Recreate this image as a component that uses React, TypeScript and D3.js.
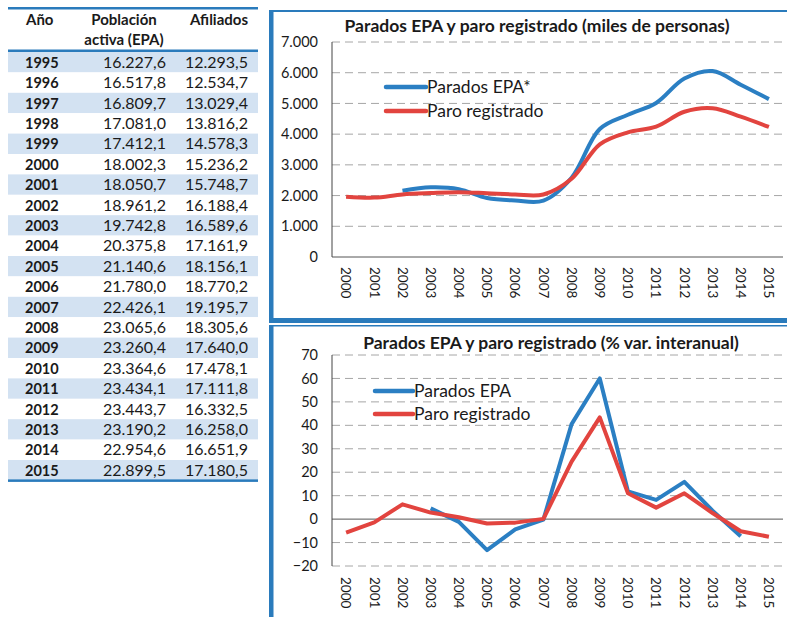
import * as d3 from "d3";

// tabla: población activa (EPA) y afiliados, miles
const tableYears = [1995, 1996, 1997, 1998, 1999, 2000, 2001, 2002, 2003, 2004, 2005, 2006, 2007, 2008, 2009, 2010, 2011, 2012, 2013, 2014, 2015];
const poblacionActiva = [16227.6, 16517.8, 16809.7, 17081.0, 17412.1, 18002.3, 18050.7, 18961.2, 19742.8, 20375.8, 21140.6, 21780.0, 22426.1, 23065.6, 23260.4, 23364.6, 23434.1, 23443.7, 23190.2, 22954.6, 22899.5];
const afiliados = [12293.5, 12534.7, 13029.4, 13816.2, 14578.3, 15236.2, 15748.7, 16188.4, 16589.6, 17161.9, 18156.1, 18770.2, 19195.7, 18305.6, 17640.0, 17478.1, 17111.8, 16332.5, 16258.0, 16651.9, 17180.5];

// gráficos
const years = ["2000", "2001", "2002", "2003", "2004", "2005", "2006", "2007", "2008", "2009", "2010", "2011", "2012", "2013", "2014", "2015"];
const paradosEPA = [null, null, 2160, 2270, 2210, 1920, 1840, 1835, 2580, 4165, 4630, 5015, 5810, 6055, 5610, 5140];
const paroRegistrado = [1965, 1935, 2035, 2080, 2110, 2075, 2035, 2035, 2545, 3670, 4060, 4245, 4730, 4845, 4570, 4235];
const paradosEPAVar = [null, null, null, 4.6, -1.2, -13.2, -4.4, -0.2, 40.5, 60, 11.8, 8.2, 15.9, 3.6, -7.3, null];
const paroRegistradoVar = [-5.8, -1.4, 6.3, 2.8, 0.8, -1.9, -1.5, 0.1, 24.5, 43.4, 11.0, 4.9, 11.0, 2.6, -5.2, -7.5];

const BLUE = "#2b7fc3";
const RED = "#e2443f";
const BORDER = "#2a7bbc";
const FONT = "Lato, 'Open Sans', sans-serif";

const es = d3.formatLocale({ decimal: ",", thousands: ".", grouping: [3], currency: ["", "€"] });
const fmt1 = es.format(",.1f");
const fmt0 = es.format(",.0f");

function Table() {
  const left = 8;
  const right = 258;
  const y0 = 52;
  const rowH = 20.4;
  return (
    <g fontFamily={FONT} fill="#1a1a1a">
      {tableYears.map((yr, i) => (
        <rect key={"r" + yr} x={left} y={y0 + i * rowH} width={right - left} height={rowH} fill={i % 2 === 0 ? "#d3e2f2" : "#fff"} />
      ))}
      <rect x={left} y={7} width={right - left} height={2.5} fill={BORDER} />
      <rect x={left} y={49.5} width={right - left} height={2.5} fill={BORDER} />
      <rect x={left} y={y0 + tableYears.length * rowH - 1} width={right - left} height={2.5} fill={BORDER} />
      <text x={26} y={25} fontSize={15} fontWeight="bold">Año</text>
      <text x={124} y={25} fontSize={15} fontWeight="bold" textAnchor="middle">Población</text>
      <text x={124} y={45} fontSize={15} fontWeight="bold" textAnchor="middle">activa (EPA)</text>
      <text x={248} y={25} fontSize={15} fontWeight="bold" textAnchor="end">Afiliados</text>
      {tableYears.map((yr, i) => {
        const cy = y0 + i * rowH + rowH / 2 + 5.5;
        return (
          <g key={"t" + yr}>
            <text x={25} y={cy} fontSize={14.5} fontWeight="bold">{yr}</text>
            <text x={166} y={cy} fontSize={16} textAnchor="end">{fmt1(poblacionActiva[i])}</text>
            <text x={248} y={cy} fontSize={16} textAnchor="end">{fmt1(afiliados[i])}</text>
          </g>
        );
      })}
    </g>
  );
}

interface ChartProps {
  title: string;
  titleX: number;
  titleY: number;
  domain: [number, number];
  step: number;
  yRange: [number, number];
  labelTop: number;
  series: { name: string; color: string; values: (number | null)[] }[];
  legendX: [number, number];
  legendY: number[];
  smooth: boolean;
}

function LineChart(p: ChartProps) {
  const x = d3.scaleBand().domain(years).range([332, 783]);
  const y = d3.scaleLinear().domain(p.domain).range(p.yRange);
  const ticks = d3.range(p.domain[0], p.domain[1] + p.step / 2, p.step);
  const line = d3
    .line<number | null>()
    .defined((d) => d !== null)
    .x((_, i) => x(years[i])! + x.bandwidth() / 2)
    .y((d) => y(d as number))
    .curve(p.smooth ? d3.curveCatmullRom.alpha(0.5) : d3.curveLinear);
  return (
    <g fontFamily={FONT} fill="#1a1a1a">
      <text x={p.titleX} y={p.titleY} fontSize={17.5} fontWeight="bold" textAnchor="middle">{p.title}</text>
      {ticks.map((t) => (
        <g key={t}>
          {t !== 0 && (
            <line x1={332} x2={783} y1={y(t)} y2={y(t)} stroke="#a6a6a6" strokeWidth={1} strokeDasharray="8,5" />
          )}
          <text x={318} y={y(t)} dy="0.35em" fontSize={14.5} textAnchor="end">{fmt0(t)}</text>
        </g>
      ))}
      <line x1={332} x2={783} y1={y(0)} y2={y(0)} stroke="#555" strokeWidth={1} />
      <line x1={332} x2={332} y1={p.yRange[0]} y2={p.yRange[1]} stroke="#444" strokeWidth={1} />
      {years.map((yr) => (
        <text key={yr} transform={`translate(${x(yr)! + x.bandwidth() / 2},${p.labelTop}) rotate(90)`} dy="0.35em" fontSize={13.5}>
          {yr}
        </text>
      ))}
      {p.series.map((s) => (
        <path key={s.name} d={line(s.values) ?? ""} fill="none" stroke={s.color} strokeWidth={4} strokeLinejoin="round" />
      ))}
      {p.series.map((s, i) => (
        <g key={"l" + s.name}>
          <line x1={p.legendX[0]} x2={p.legendX[1]} y1={p.legendY[i]} y2={p.legendY[i]} stroke={s.color} strokeWidth={4.5} strokeLinecap="round" />
          <text x={p.legendX[1] + 1} y={p.legendY[i]} dy="0.35em" fontSize={17.5}>{s.name}</text>
        </g>
      ))}
    </g>
  );
}

export default function App() {
  return (
    <svg width={787} height={617} style={{ position: "absolute", left: 0, top: 0, background: "#fff" }}>
      <Table />
      {/* marcos de los paneles */}
      <rect x={269} y={10} width={518} height={2} fill={BORDER} />
      <rect x={269} y={10} width={4.5} height={313} fill={BORDER} />
      <rect x={269} y={318} width={518} height={5} fill={BORDER} />
      <rect x={269} y={325} width={518} height={1.5} fill={BORDER} />
      <rect x={269} y={326} width={4.5} height={291} fill={BORDER} />
      <LineChart
        title="Parados EPA y paro registrado (miles de personas)"
        titleX={537}
        titleY={32}
        domain={[0, 7000]}
        step={1000}
        yRange={[257, 42]}
        labelTop={267}
        series={[
          { name: "Parados EPA*", color: BLUE, values: paradosEPA },
          { name: "Paro registrado", color: RED, values: paroRegistrado },
        ]}
        legendX={[386, 426]}
        legendY={[87, 111]}
        smooth={true}
      />
      <LineChart
        title="Parados EPA y paro registrado (% var. interanual)"
        titleX={551}
        titleY={349}
        domain={[-20, 70]}
        step={10}
        yRange={[566, 355]}
        labelTop={577}
        series={[
          { name: "Parados EPA", color: BLUE, values: paradosEPAVar },
          { name: "Paro registrado", color: RED, values: paroRegistradoVar },
        ]}
        legendX={[375, 413]}
        legendY={[391, 414]}
        smooth={false}
      />
    </svg>
  );
}
